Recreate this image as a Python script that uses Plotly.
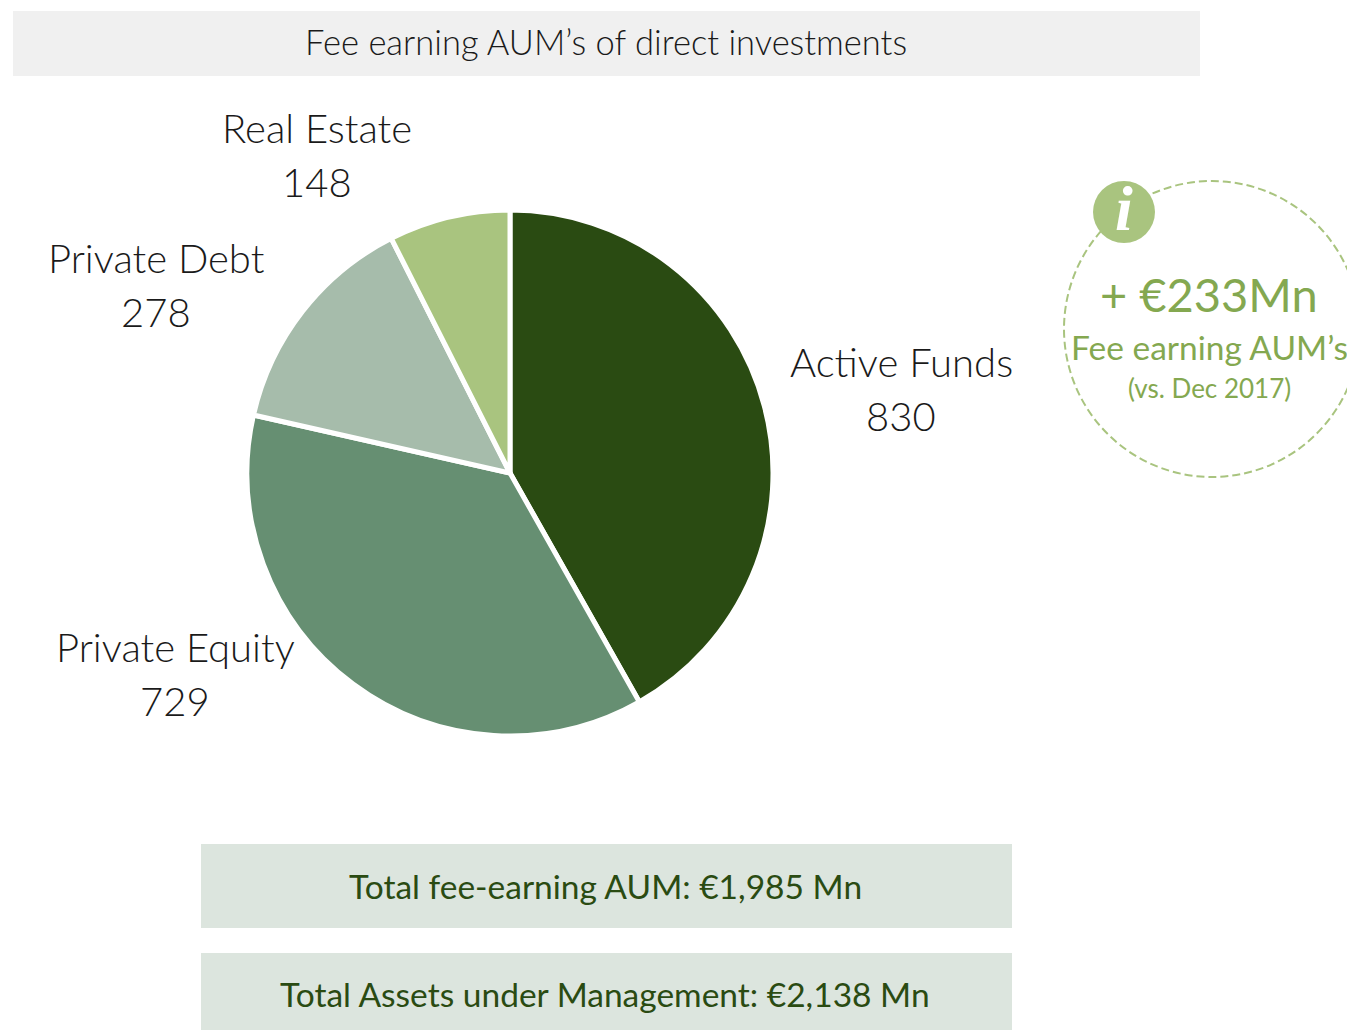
import plotly.graph_objects as go

W, H = 1347, 1030
categories = ["Active Funds", "Private Equity", "Private Debt", "Real Estate"]
values = [830, 729, 278, 148]
colors = ["#2A4B12", "#668F72", "#A6BCAB", "#A9C47F"]
FONT = "Lato"
BODY = "#1a1a1a"
DARK = "#2A4B12"
LIGHT = "#84A850"


def px(x):
    return x / W


def py(y):
    return 1 - y / H


fig = go.Figure(go.Pie(
    labels=categories, values=values, sort=False, direction="clockwise", rotation=0,
    marker=dict(colors=colors, line=dict(color="white", width=5)),
    textinfo="none", hoverinfo="label+value", showlegend=False,
    domain=dict(x=[px(247), px(773)], y=[py(736), py(210)]),
))

shapes = [
    dict(type="rect", xref="paper", yref="paper", x0=px(13), x1=px(1200), y0=py(76), y1=py(11),
         fillcolor="#F0F0F0", line_width=0, layer="below"),
    dict(type="rect", xref="paper", yref="paper", x0=px(201), x1=px(1012), y0=py(928), y1=py(844),
         fillcolor="#DCE5DE", line_width=0, layer="below"),
    dict(type="rect", xref="paper", yref="paper", x0=px(201), x1=px(1012), y0=py(1030), y1=py(953),
         fillcolor="#DCE5DE", line_width=0, layer="below"),
    dict(type="circle", xref="paper", yref="paper", x0=px(1064), x1=px(1360), y0=py(477), y1=py(181),
         line=dict(color="#A9C47F", width=2, dash="8px,4px"), fillcolor="rgba(0,0,0,0)"),
    dict(type="circle", xref="paper", yref="paper", x0=px(1093), x1=px(1155), y0=py(243), y1=py(181),
         line_width=0, fillcolor="#A9C47F"),
]


def t(x, y, text, size, color=BODY, weight=300):
    return dict(xref="paper", yref="paper", x=px(x), y=py(y), text=text, showarrow=False,
                xanchor="center", yanchor="middle",
                font=dict(family=FONT, size=size, color=color, weight=weight))


annotations = [
    t(606, 42, "Fee earning AUM’s of direct investments", 34.5),
    t(317, 128, "Real Estate", 40), t(317, 182, "148", 40),
    t(156, 258, "Private Debt", 40), t(156, 312, "278", 40),
    t(901, 362, "Active Funds", 40), t(901, 416, "830", 40),
    t(175, 647, "Private Equity", 40), t(175, 701, "729", 40),
    t(605, 886, "Total fee-earning AUM: €1,985 Mn", 33.5, DARK, 400),
    t(605, 994, "Total Assets under Management: €2,138 Mn", 33.5, DARK, 400),
    t(1209, 294, "+ €233Mn", 47, LIGHT, 400),
    t(1209, 347, "Fee earning AUM’s", 33.5, LIGHT, 400),
    t(1209, 388, "(vs. Dec 2017)", 26, LIGHT, 400),
    dict(xref="paper", yref="paper", x=px(1124), y=py(209), text="<b><i>i</i></b>", showarrow=False,
         xanchor="center", yanchor="middle", font=dict(family="Liberation Serif", size=64, color="white")),
]

fig.update_layout(width=W, height=H, margin=dict(l=0, r=0, t=0, b=0), autosize=False,
                  paper_bgcolor="white", plot_bgcolor="white", shapes=shapes, annotations=annotations)
fig.write_html("out.html", config=dict(displayModeBar=False),
               post_script="document.body.style.margin='0';document.documentElement.style.overflow='hidden';")
